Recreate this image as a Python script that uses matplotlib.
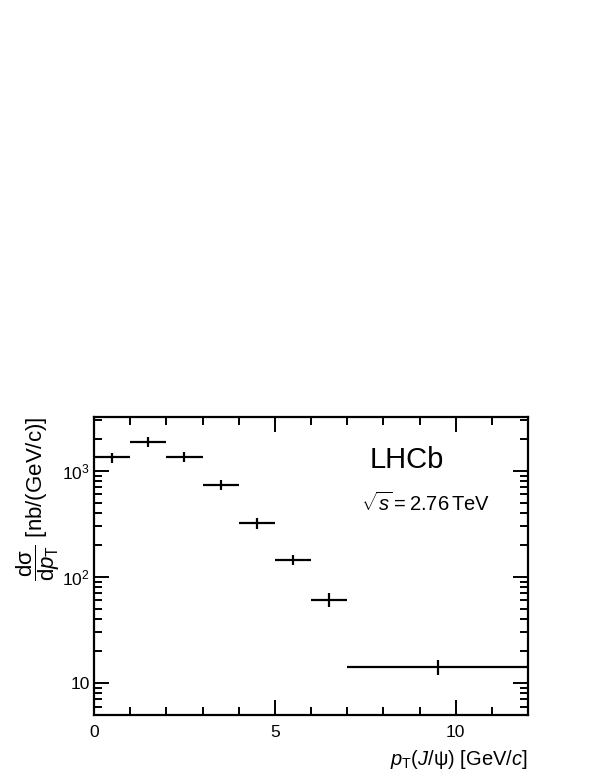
import numpy as np
import matplotlib
matplotlib.use('Agg')
import matplotlib.pyplot as plt
from matplotlib.ticker import LogLocator, MultipleLocator, FixedLocator, FixedFormatter, NullFormatter

# J/psi differential cross-section, LHCb sqrt(s) = 2.76 TeV
bin_lo = [0, 1, 2, 3, 4, 5, 6, 7]
bin_hi = [1, 2, 3, 4, 5, 6, 7, 12]
pt_centre = [0.5, 1.5, 2.5, 3.5, 4.5, 5.5, 6.5, 9.5]
xsec = [1335, 1865, 1350, 733, 321, 144, 61, 14.2]
xsec_err = [145, 200, 140, 80, 36, 16, 9, 2.3]

plt.rcParams['font.family'] = ['Liberation Sans', 'DejaVu Sans']
plt.rcParams['mathtext.fontset'] = 'custom'
plt.rcParams['mathtext.rm'] = 'Liberation Sans'
plt.rcParams['mathtext.it'] = 'Liberation Sans:italic'
plt.rcParams['mathtext.sf'] = 'Liberation Sans'

fig = plt.figure(figsize=(5.99, 7.76), dpi=100)
ax = fig.add_axes([94 / 599, 1 - 715 / 776, 434 / 599, 298 / 776])

x = np.array(pt_centre)
xerr = np.array([x - np.array(bin_lo), np.array(bin_hi) - x])
ax.errorbar(x, xsec, xerr=xerr, yerr=xsec_err, fmt='none', ecolor='black',
            elinewidth=1.6, capsize=0)

ax.set_yscale('log')
ax.set_xlim(0, 12)
ax.set_ylim(5.0, 3200)

# ticks: ROOT style, inward on all sides
ax.xaxis.set_major_locator(FixedLocator([0, 5, 10]))
ax.xaxis.set_minor_locator(MultipleLocator(1))
ax.yaxis.set_major_locator(FixedLocator([10, 100, 1000]))
ax.yaxis.set_major_formatter(FixedFormatter(['10', r'$10^{2}$', r'$10^{3}$']))
ax.yaxis.set_minor_locator(LogLocator(base=10, subs=np.arange(2, 10)))
ax.yaxis.set_minor_formatter(NullFormatter())
ax.tick_params(which='both', direction='in', top=True, right=True,
               labelsize=12.5, width=1.4)
ax.tick_params(which='major', length=11)
ax.tick_params(which='minor', length=5.5)
ax.tick_params(axis='x', pad=7)
ax.tick_params(axis='y', pad=3)
for s in ax.spines.values():
    s.set_linewidth(1.6)

ax.set_xlabel(r'$p_{\mathrm{T}}(J/\mathrm{ψ})$ [GeV/$c$]', fontsize=14.5, loc='right', labelpad=6)
ax.set_ylabel(r'$\dfrac{\mathrm{dσ}}{\mathrm{d}p_{\mathrm{T}}}$ [nb/(GeV/c)]',
              fontsize=16, loc='top', labelpad=0)

ax.text(0.635, 0.855, 'LHCb', transform=ax.transAxes, fontsize=21,
        ha='left', va='center')
ax.text(0.615, 0.71, r'$\sqrt{s}=2.76\,\mathrm{TeV}$', transform=ax.transAxes,
        fontsize=14.5, ha='left', va='center')

fig.savefig('out.png', dpi=100)
